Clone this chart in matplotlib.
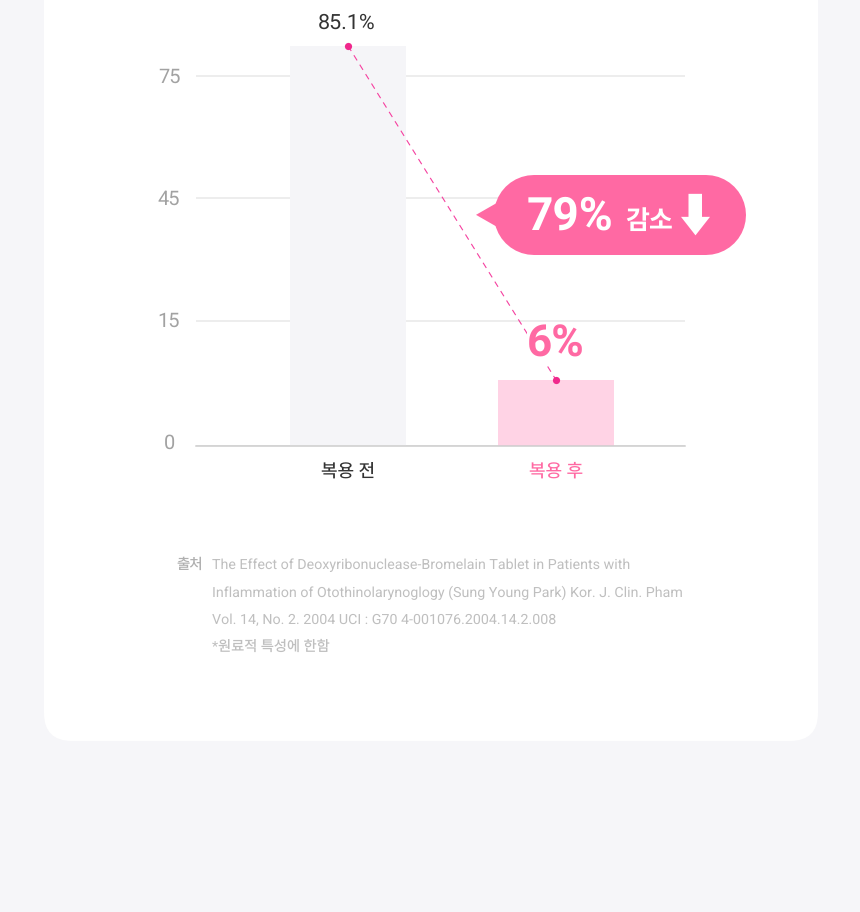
import numpy as np
import matplotlib
matplotlib.use("Agg")
import matplotlib.pyplot as plt
from matplotlib.patches import FancyBboxPatch, Polygon, Rectangle
from matplotlib.transforms import ScaledTranslation

# data
categories = ["복용 전", "복용 후"]
values = [85.1, 6]
value_labels = ["85.1%", "6%"]
tick_values = [0, 15, 45, 75]
tick_labels = ["0", "15", "45", "75"]
callout = "79%"
callout_word = "감소"
source_label = "출처"
source_lines = [
    "The Effect of Deoxyribonuclease-Bromelain Tablet in Patients with",
    "Inflammation of Otothinolarynoglogy (Sung Young Park) Kor. J. Clin. Pham",
    "Vol. 14, No. 2. 2004 UCI : G70 4-001076.2004.14.2.008",
    "*원료적 특성에 한함",
]
# non-linear axis of the original: value -> height in px above the baseline
scale_values = [0, 6, 15, 45, 75, 85.1]
scale_heights = [0, 66, 125, 248, 370, 400]

W, H = 860, 912
FONT = ["Roboto", "Noto Sans CJK KR", "DejaVu Sans"]
KR = ["Noto Sans CJK KR", "DejaVu Sans"]
plt.rcParams["font.family"] = FONT
plt.rcParams["text.hinting"] = "no_hinting"
px = 0.72  # px -> pt at dpi 100


def overlay(z):
    a = fig.add_axes([0, 0, 1, 1], zorder=z)
    a.set_xlim(0, W)
    a.set_ylim(H, 0)
    a.axis("off")
    a.patch.set_alpha(0)
    return a


fig = plt.figure(figsize=(W / 100, (H + 0.2) / 100), dpi=100, facecolor="#f6f6f9")
bg = overlay(0)
bg.add_patch(FancyBboxPatch((44, -100), 774, 841, boxstyle="round,pad=0,rounding_size=28",
                            fc="white", ec="none"))

ax = fig.add_axes([196 / W, (H - 446) / H, 489 / W, 400 / H], zorder=1)
ax.patch.set_alpha(0)
ax.set_yscale("function", functions=(
    lambda v: np.interp(v, scale_values, scale_heights),
    lambda h: np.interp(h, scale_heights, scale_values)))
ax.set_ylim(0, 85.1)
ax.set_xlim(-152 / 208, 337 / 208)
x = np.arange(len(categories))
ax.bar(x, values, width=116 / 208, color=["#f5f5f8", "#ffd3e5"], zorder=2)
ax.plot(x, values, color="#f53f9f", lw=0.8, dashes=(5.5, 4.5), zorder=3, clip_on=False)
ax.scatter(x, values, s=27, color="#f0288c", zorder=4, clip_on=False, linewidths=0)

ax.set_yticks(tick_values, tick_labels)
ax.minorticks_off()
ax.tick_params(axis="y", length=0, pad=27 * px, labelsize=20 * px, labelcolor="#a2a2a2")
for lab, lift in zip(ax.get_yticklabels(), [5, 1.5, 1, 1]):
    lab.set_ha("center")
    lab.set_transform(lab.get_transform() + ScaledTranslation(0, lift / 100, fig.dpi_scale_trans))
ax.set_xticks(x, categories)
ax.tick_params(axis="x", length=0, pad=16.5 * px, labelsize=18 * px)
ticklabs = ax.get_xticklabels()
ticklabs[0].set_color("#333333")
ticklabs[1].set_color("#ff69a3")
for s in ["top", "left", "right"]:
    ax.spines[s].set_visible(False)
ax.spines["bottom"].set_color("#cccccc")
ax.spines["bottom"].set_linewidth(1.5 * px)
ax.yaxis.grid(True, color="#e9e9e9", lw=1.6 * px, zorder=1)
ax.set_axisbelow(True)

ax.annotate(value_labels[0], (0, values[0]), xytext=(-1, 22.5 * px), textcoords="offset points",
            ha="center", va="center", fontsize=21.5 * px, color="#333333", zorder=6, annotation_clip=False)

fg = overlay(2)
# white knock-out behind the 6% label: it interrupts the dashed line, not the gridline
ax.add_patch(Rectangle((527, 325), 58, 38, transform=fg.transData, fc="white", ec="none",
                       zorder=3.5, clip_on=False))
ax.annotate(value_labels[1], (1, values[1]), xytext=(0, 35.5 * px), textcoords="offset points",
            ha="center", va="center", fontsize=44 * px, fontweight="bold", color="#ff69a3", zorder=6)

PINK = "#ff69a3"
fg.plot([534, 706], [215, 215], color=PINK, lw=80 * px, solid_capstyle="round", zorder=1)
fg.add_patch(Polygon([(476, 215), (497, 203), (497, 227)], fc=PINK, ec="none", zorder=1))
fg.text(569.5, 217, callout, ha="center", va="center", color="white", fontsize=46 * px,
        fontweight="bold")
fg.text(649.5, 221, callout_word, ha="center", va="center", color="white", fontsize=26 * px,
        fontweight="bold", family=KR)
fg.add_patch(Polygon([(688.5, 194), (702, 194), (702, 217), (710, 217), (695.5, 235.5),
                      (681, 217), (688.5, 217)], fc="white", ec="none", zorder=3))

fg.text(203, 569, source_label, ha="right", va="baseline", color="#b0b0b0", fontsize=14.5 * px, family=KR)
for y, line in zip([569, 597, 624, 651], source_lines):
    fg.text(212, y, line, ha="left", va="baseline", color="#bfbfbf", fontsize=14.2 * px)

fig.savefig("out.png", dpi=100, facecolor=fig.get_facecolor())
